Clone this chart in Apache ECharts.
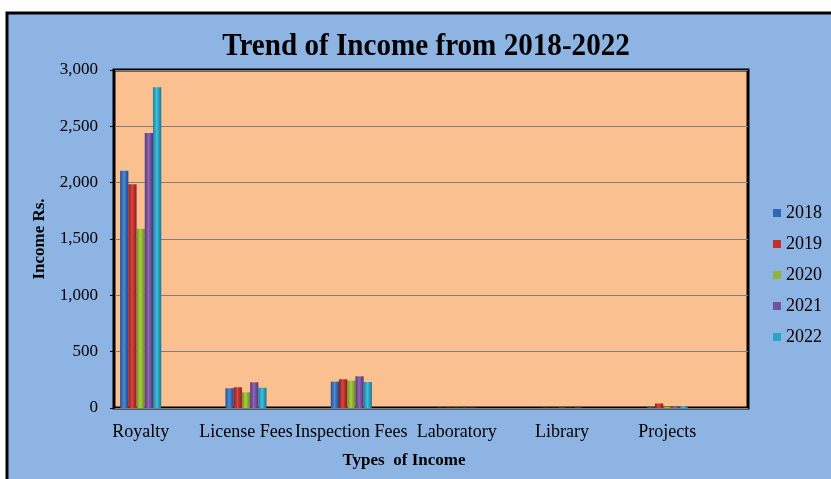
<!DOCTYPE html>
<html>
<head>
<meta charset="utf-8">
<script src="https://cdn.jsdelivr.net/npm/echarts@6/dist/echarts.min.js"></script>
<style>
  html, body { margin: 0; padding: 0; background: #ffffff; }
  #chart { width: 831px; height: 479px; }
</style>
</head>
<body>
<div id="chart"></div>
<script>
// Income by type, one series per year
const categories = ['Royalty', 'License Fees', 'Inspection Fees', 'Laboratory', 'Library', 'Projects'];
const years = ['2018', '2019', '2020', '2021', '2022'];
const income2018 = [2105, 175, 234, 2, 2, 6];
const income2019 = [1985, 184, 255, 3, 2, 40];
const income2020 = [1592, 139, 243, 2, 3, 10];
const income2021 = [2441, 228, 281, 3, 2, 12];
const income2022 = [2847, 180, 231, 2, 3, 18];
const yTicks = [0, 500, 1000, 1500, 2000, 2500, 3000];

const seriesValues = [income2018, income2019, income2020, income2021, income2022];

// cylinder-like shading: dark edge, lighter middle, dark edge
const shades = [
  ['#1f4f91', '#4d8ad6', '#1c4784'],
  ['#8e1d1d', '#d9443f', '#8a1a1a'],
  ['#6f8f1f', '#a9cc45', '#6a8a1c'],
  ['#56367a', '#8c66bb', '#51336f'],
  ['#17809c', '#3fc0de', '#157490']
];
const legendColors = ['#2f67b0', '#c0302e', '#92b536', '#74519f', '#2aa5c6'];

const serif = '"Liberation Serif", "DejaVu Serif", serif';

const chart = echarts.init(document.getElementById('chart'), null, { renderer: 'canvas' });

const series = years.map((y, i) => ({
  name: y,
  type: 'bar',
  xAxisIndex: 0,
  yAxisIndex: 0,
  data: seriesValues[i],
  barGap: '0%',
  barCategoryGap: '61%',
  z: 5,
  itemStyle: {
    color: new echarts.graphic.LinearGradient(0, 0, 1, 0, [
      { offset: 0, color: shades[i][0] },
      { offset: 0.45, color: shades[i][1] },
      { offset: 1, color: shades[i][2] }
    ])
  }
}));

chart.setOption({
  animation: false,
  backgroundColor: '#ffffff',
  graphic: [
    {
      type: 'rect',
      z: -10,
      shape: { x: 7, y: 13, width: 840, height: 480 },
      style: { fill: '#8db4e2', stroke: '#000000', lineWidth: 3 }
    },
    {
      type: 'text',
      z: 10,
      x: 426,
      y: 47,
      scaleX: 0.91,
      style: {
        text: 'Trend of Income from 2018-2022',
        font: 'bold 32px ' + serif,
        fill: '#000000',
        align: 'center',
        verticalAlign: 'middle'
      }
    }
  ],
  legend: {
    orient: 'vertical',
    left: 773,
    top: 204,
    padding: 0,
    itemWidth: 8,
    itemHeight: 8,
    itemGap: 13,
    icon: 'rect',
    data: years.map((y, i) => ({ name: y, itemStyle: { color: legendColors[i] } })),
    textStyle: { fontFamily: serif, fontSize: 18, color: '#000000' }
  },
  grid: [
    // bar placement grid
    { left: 88, top: 70, width: 632, height: 338, show: false },
    // plot area with value axis
    {
      left: 114, top: 70, width: 634, height: 338, show: true,
      backgroundColor: '#fac08f', borderColor: '#000000', borderWidth: 3
    }
  ],
  xAxis: [
    {
      type: 'category',
      gridIndex: 0,
      data: categories,
      name: 'Types  of Income',
      nameLocation: 'middle',
      nameGap: 44,
      nameTextStyle: { fontFamily: serif, fontSize: 17, fontWeight: 'bold', color: '#000000' },
      axisLine: { show: false },
      axisTick: { show: false },
      axisLabel: { fontFamily: serif, fontSize: 18, color: '#000000', margin: 15, interval: 0 }
    },
    {
      type: 'category',
      gridIndex: 1,
      data: categories,
      show: false
    }
  ],
  yAxis: [
    { type: 'value', gridIndex: 0, min: 0, max: 3000, interval: 500, show: false },
    {
      type: 'value',
      gridIndex: 1,
      min: yTicks[0],
      max: yTicks[yTicks.length - 1],
      interval: 500,
      name: 'Income Rs.',
      nameLocation: 'middle',
      nameGap: 66,
      nameRotate: 90,
      nameTextStyle: { fontFamily: serif, fontSize: 17, fontWeight: 'bold', color: '#000000' },
      axisLine: { show: true, lineStyle: { color: '#000000', width: 2 } },
      axisTick: { show: true, length: 4, lineStyle: { color: '#000000' } },
      axisLabel: {
        fontFamily: serif, fontSize: 17, color: '#000000', margin: 16,
        formatter: v => v.toLocaleString('en-US')
      },
      splitLine: { show: true, lineStyle: { color: '#7f7f7f', width: 1 } }
    }
  ],
  series: series
});
</script>
</body>
</html>
